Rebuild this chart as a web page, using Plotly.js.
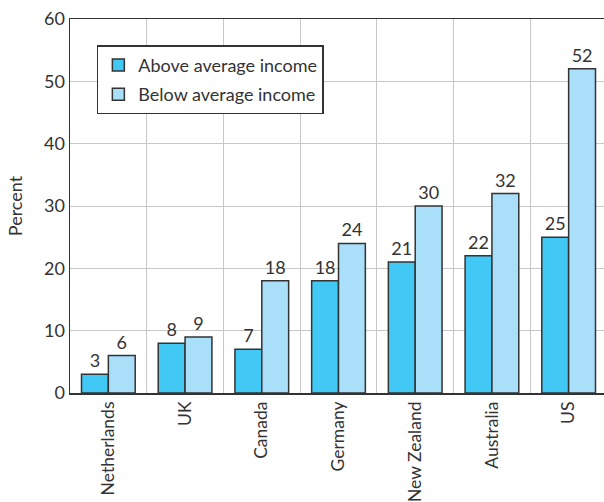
<!DOCTYPE html>
<html>
<head>
<meta charset="utf-8">
<script src="https://cdn.plot.ly/plotly-3.0.1.min.js"></script>
<style>html,body{margin:0;padding:0;overflow:hidden;background:#fff;}</style>
</head>
<body>
<div id="chart"></div>
<script>
const countries = ["Netherlands", "UK", "Canada", "Germany", "New Zealand", "Australia", "US"];
const aboveAverage = [3, 8, 7, 18, 21, 22, 25];
const belowAverage = [6, 9, 18, 24, 30, 32, 52];
const seriesNames = ["Above average income", "Below average income"];

const fontFam = "Lato, Open Sans, sans-serif";
const txtColor = "#333333";

const traces = [
  {
    type: "bar", x: countries, y: aboveAverage, name: seriesNames[0], legendgroup: "above",
    marker: {color: "#42C8F4", line: {color: "#333333", width: 1.5}},
    text: aboveAverage.map(String), textposition: "outside", cliponaxis: false,
    textfont: {family: fontFam, size: 18, color: txtColor}
  },
  {
    type: "bar", x: countries, y: belowAverage, name: seriesNames[1], legendgroup: "below",
    marker: {color: "#AADFFA", line: {color: "#333333", width: 1.5}},
    text: belowAverage.map(String), textposition: "outside", cliponaxis: false,
    textfont: {family: fontFam, size: 18, color: txtColor}
  }
];

const layout = {
  width: 612, height: 502,
  margin: {l: 70, r: 5, t: 19, b: 109},
  paper_bgcolor: "#ffffff", plot_bgcolor: "#ffffff",
  font: {family: fontFam, color: txtColor},
  barmode: "group", bargap: 0.3, bargroupgap: 0,
  showlegend: true,
  legend: {
    x: 0.05, y: 0.93, xanchor: "left", yanchor: "top",
    bgcolor: "#ffffff", bordercolor: "#333333", borderwidth: 1.5,
    font: {family: fontFam, size: 18, color: txtColor},
    tracegroupgap: 3
  },
  xaxis: {
    type: "category", range: [-0.5, 6.5], tickson: "boundaries",
    showgrid: true, gridcolor: "#c8c8c8", gridwidth: 1,
    showline: true, linecolor: "#333333", linewidth: 1.5, mirror: true,
    ticks: "", tickangle: -90, tickfont: {family: fontFam, size: 17.5, color: txtColor},
    fixedrange: true
  },
  yaxis: {
    range: [0, 60], dtick: 10,
    showgrid: true, gridcolor: "#c8c8c8", gridwidth: 1,
    showline: true, linecolor: "#333333", linewidth: 1.5, mirror: true,
    zeroline: false, ticks: "", ticklen: 0,
    tickfont: {family: fontFam, size: 18, color: txtColor},
    title: {text: "Percent", font: {family: fontFam, size: 18, color: txtColor}, standoff: 16},
    fixedrange: true
  }
};

Plotly.newPlot("chart", traces, layout, {displayModeBar: false, staticPlot: true});
</script>
</body>
</html>
